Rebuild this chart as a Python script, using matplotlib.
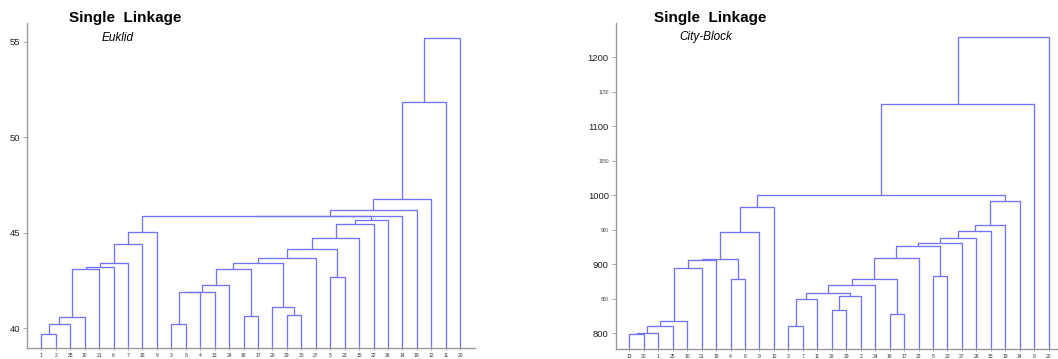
import matplotlib
matplotlib.use("Agg")
import matplotlib.pyplot as plt
from matplotlib.ticker import FixedLocator

plt.rcParams['font.family'] = ['Liberation Sans', 'DejaVu Sans']

# leaf order as shown, left to right
euklid_labels = [1, 2, 25, 10, 21, 6, 7, 18, 9, 3, 8, 4, 13, 24, 16, 17,
                 28, 29, 30, 27, 5, 23, 15, 22, 26, 14, 19, 12, 11, 20]
# merges: (left id, right id, height); ids 0..29 are leaf positions, 30+k is merge k
euklid_merges = [
    (0, 1, 39.69), (30, 2, 40.21), (31, 3, 40.59), (32, 4, 43.09),
    (33, 5, 43.23), (34, 6, 43.40), (35, 7, 44.40), (36, 8, 45.03),
    (9, 10, 40.21), (38, 11, 41.88), (39, 12, 41.92), (40, 13, 42.25),
    (14, 15, 40.64), (41, 42, 43.09), (17, 18, 40.70), (16, 44, 41.13),
    (43, 45, 43.40), (46, 19, 43.70), (20, 21, 42.67), (47, 48, 44.14),
    (49, 22, 44.71), (50, 23, 45.45), (51, 24, 45.65), (37, 52, 45.88),
    (53, 25, 45.89), (54, 26, 46.18), (55, 27, 46.75), (56, 28, 51.83),
    (57, 29, 55.21),
]

city_labels = [13, 30, 1, 25, 10, 21, 18, 4, 6, 9, 12, 3, 7, 11, 28, 29,
               2, 24, 16, 17, 22, 5, 23, 27, 26, 15, 19, 14, 8, 20]
city_merges = [
    (0, 1, 798.5), (30, 2, 800.0), (31, 3, 811.0), (32, 4, 817.8),
    (33, 5, 894.2), (34, 6, 905.8), (7, 8, 878.3), (35, 36, 907.2),
    (37, 9, 946.3), (38, 10, 982.6), (11, 12, 811.0), (40, 13, 849.3),
    (14, 15, 833.8), (42, 16, 854.0), (41, 43, 858.9), (44, 17, 869.5),
    (18, 19, 827.5), (45, 46, 879.2), (47, 20, 909.6), (21, 22, 883.0),
    (48, 49, 927.0), (50, 23, 930.4), (51, 24, 937.7), (52, 25, 948.3),
    (53, 26, 956.5), (54, 27, 991.3), (39, 55, 1000.0), (56, 28, 1131.9),
    (57, 29, 1229.0),
]

line_col = '#7474fa'
axis_col = '#999999'


def draw_dendro(ax, labels, merges, ybottom):
    n = len(labels)
    xpos = list(range(n))
    hts = [ybottom] * n
    for a, b, h in merges:
        ax.plot([xpos[a], xpos[a], xpos[b], xpos[b]], [hts[a], h, h, hts[b]],
                color=line_col, lw=0.95, solid_capstyle='butt')
        xpos.append((xpos[a] + xpos[b]) / 2)
        hts.append(h)
    ax.set_xticks(range(n))
    ax.set_xticklabels([str(l) for l in labels], fontsize=3.6, color='#333333')


def style_axes(ax):
    for s in ['top', 'right']:
        ax.spines[s].set_visible(False)
    for s in ['left', 'bottom']:
        ax.spines[s].set_color(axis_col)
        ax.spines[s].set_linewidth(1.0)
    ax.tick_params(axis='x', length=1.5, width=0.6, color=axis_col, pad=2)
    ax.tick_params(axis='y', which='both', length=3, width=0.6, color=axis_col, pad=2)


fig = plt.figure(figsize=(10.58, 3.59), dpi=100)

# left: Euklid
ax1 = fig.add_axes([0.0258, 0.0306, 0.4232, 0.906])
draw_dendro(ax1, euklid_labels, euklid_merges, 38.97)
ax1.set_xlim(-0.97, 30.03)
ax1.set_ylim(38.97, 56.0)
ax1.set_yticks([40, 45, 50, 55])
ax1.tick_params(axis='y', labelsize=6.8, labelcolor='#222222')
style_axes(ax1)
fig.text(124.7 / 1058, 1 - 17.7 / 359, 'Single  Linkage', fontsize=11, fontweight='bold',
         ha='center', va='center')
fig.text(118 / 1058, 1 - 37.7 / 359, 'Euklid', fontsize=8.5, style='italic',
         ha='center', va='center')

# right: City-Block
ax2 = fig.add_axes([0.582, 0.027, 0.4171, 0.9097])
draw_dendro(ax2, city_labels, city_merges, 776.8)
ax2.set_xlim(-0.94, 29.58)
ax2.set_ylim(776.8, 1250)
ax2.set_yticks([800, 900, 1000, 1100, 1200])
ax2.yaxis.set_minor_locator(FixedLocator([850, 950, 1050, 1150]))
ax2.set_yticklabels(['800', '900', '1000', '1100', '1200'])
ax2.set_yticklabels(['850', '950', '1050', '1150'], minor=True)
ax2.tick_params(axis='y', which='major', labelsize=6.8, labelcolor='#222222')
ax2.tick_params(axis='y', which='minor', labelsize=3.4, labelcolor='#444444')
style_axes(ax2)
fig.text(710.5 / 1058, 1 - 18.3 / 359, 'Single  Linkage', fontsize=11, fontweight='bold',
         ha='center', va='center')
fig.text(706 / 1058, 1 - 37.3 / 359, 'City-Block', fontsize=8.5, style='italic',
         ha='center', va='center')

fig.savefig('out.png', dpi=100)
